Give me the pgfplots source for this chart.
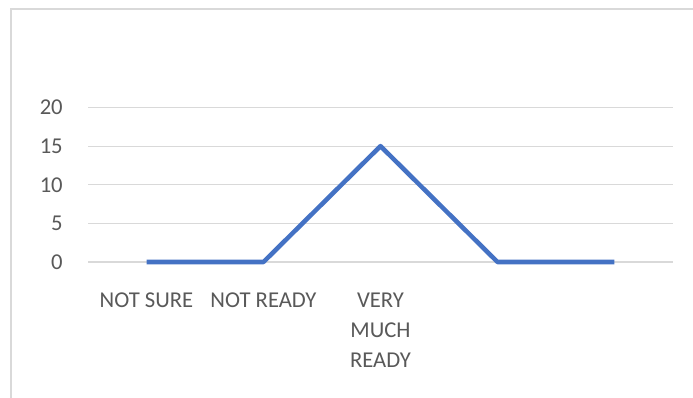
\documentclass[border=0pt]{standalone}
\usepackage{pgfplots}
\pgfplotsset{compat=1.18}
\usepackage{fontspec}
\setmainfont{Carlito}
\definecolor{txt}{HTML}{595959}
\definecolor{grid}{HTML}{D9D9D9}
\definecolor{ser}{HTML}{4472C4}
\begin{document}
\begin{tikzpicture}
\useasboundingbox (0,0) rectangle (519.75pt,298.5pt);
\draw[grid, line width=1.2pt] (8.25pt,0pt) -- (8.25pt,291.75pt) -- (519.75pt,291.75pt);
\begin{axis}[
  at={(66pt,102pt)}, anchor=south west,
  scale only axis, width=438.75pt, height=115.875pt,
  xmin=-0.5, xmax=4.5, ymin=0, ymax=20,
  axis line style={draw=none},
  ytick={0,5,10,15,20},
  xtick={0,1,2,3,4},
  xticklabels={NOT SURE, NOT READY, {VERY\\MUCH\\READY}, {}, {}},
  xmajorgrids=false, ymajorgrids=true,
  y grid style={grid, line width=0.9pt},
  major tick length=0pt, tick style={draw=none},
  /pgf/number format/assume math mode=true,
  every tick label/.append style={font=\fontsize{17}{22.5}\selectfont, text=txt},
  yticklabel style={inner sep=0pt, anchor=east, xshift=-18.75pt},
  xticklabel style={inner sep=0pt, anchor=north, yshift=-23.25pt, align=center},
  clip=false,
]
\addplot[ser, line width=3.4pt, line join=round] coordinates {(0,0) (1,0) (2,15) (3,0) (4,0)};
\end{axis}
\end{tikzpicture}
\end{document}
